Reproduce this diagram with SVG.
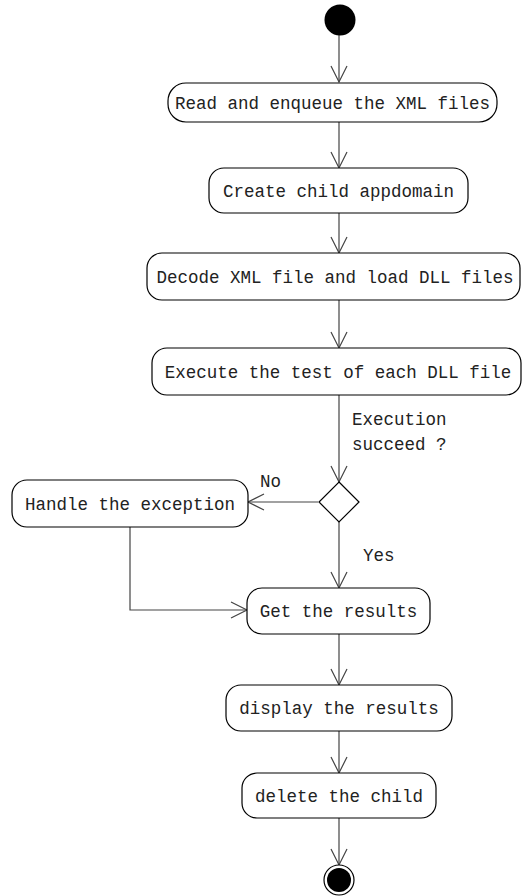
<svg xmlns="http://www.w3.org/2000/svg" width="523" height="896" viewBox="0 0 523 896">
<defs>
<style>
.box{fill:#fff;stroke:#000;stroke-width:1.2}
.t{font-family:"Liberation Mono","DejaVu Sans Mono",monospace;font-size:17.5px;fill:#222}
.c{fill:none;stroke:#444;stroke-width:1.2}
</style>
<marker id="arr" markerUnits="userSpaceOnUse" markerWidth="20" markerHeight="20" refX="17" refY="9" orient="auto">
<path d="M1,1 L17,9 L1,17" fill="none" stroke="#444" stroke-width="1.2"/>
</marker>
</defs>
<rect width="523" height="896" fill="#fff"/>
<g id="connectors">
<path class="c" d="M339,35 V82" marker-end="url(#arr)"/>
<path class="c" d="M339,122 V168" marker-end="url(#arr)"/>
<path class="c" d="M339,213 V253" marker-end="url(#arr)"/>
<path class="c" d="M339,300 V348" marker-end="url(#arr)"/>
<path class="c" d="M339,395 V482" marker-end="url(#arr)"/>
<path class="c" d="M318,502 H248" marker-end="url(#arr)"/>
<path class="c" d="M339,522 V588" marker-end="url(#arr)"/>
<path class="c" d="M130,527 V610 H247" marker-end="url(#arr)"/>
<path class="c" d="M339,634 V685" marker-end="url(#arr)"/>
<path class="c" d="M339,731 V773" marker-end="url(#arr)"/>
<path class="c" d="M339,818 V865" marker-end="url(#arr)"/>
<text class="t" x="352" y="425">Execution</text>
<text class="t" x="352" y="450">succeed ?</text>
<text class="t" x="260" y="487">No</text>
<text class="t" x="363" y="561">Yes</text>
</g>
<g id="start"><circle cx="340" cy="20" r="15.5" fill="#000"/></g>
<g id="n1"><rect class="box" x="168" y="83" width="329" height="39" rx="18"/><text class="t" x="332.5" y="109" text-anchor="middle">Read and enqueue the XML files</text></g>
<g id="n2"><rect class="box" x="209" y="168" width="259" height="45" rx="15"/><text class="t" x="338.5" y="197" text-anchor="middle">Create child appdomain</text></g>
<g id="n3"><rect class="box" x="147" y="253" width="373" height="47" rx="15"/><text class="t" x="335" y="283" text-anchor="middle">Decode XML file and load DLL files</text></g>
<g id="n4"><rect class="box" x="152" y="348" width="369" height="47" rx="15"/><text class="t" x="338" y="378" text-anchor="middle">Execute the test of each DLL file</text></g>
<g id="decision"><path class="box" d="M339,482 L359,502 L339,522 L319,502 Z"/></g>
<g id="n5"><rect class="box" x="12" y="480" width="236" height="47" rx="15"/><text class="t" x="130" y="510" text-anchor="middle">Handle the exception</text></g>
<g id="n6"><rect class="box" x="247" y="588" width="183" height="46" rx="15"/><text class="t" x="338.5" y="617" text-anchor="middle">Get the results</text></g>
<g id="n7"><rect class="box" x="226" y="685" width="226" height="46" rx="15"/><text class="t" x="339" y="714" text-anchor="middle">display the results</text></g>
<g id="n8"><rect class="box" x="242" y="773" width="194" height="45" rx="15"/><text class="t" x="339" y="802" text-anchor="middle">delete the child</text></g>
<g id="end"><circle cx="339" cy="880" r="15" fill="#fff" stroke="#000" stroke-width="1.2"/><circle cx="339" cy="880" r="12" fill="#000"/></g>
</svg>
